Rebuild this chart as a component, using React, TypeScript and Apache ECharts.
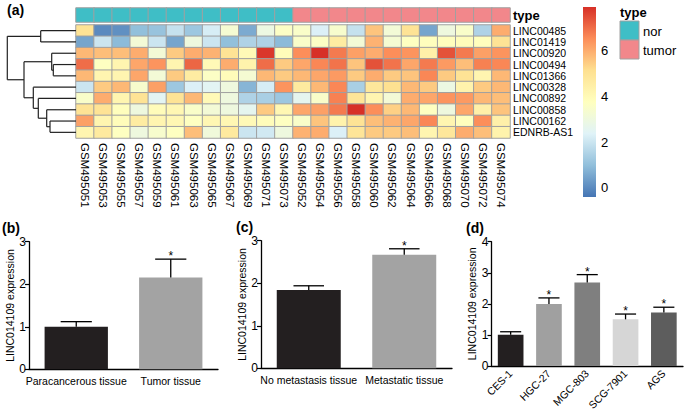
import React, { useEffect, useRef } from "react";
import * as echarts from "echarts";

const FONT = "Arial, 'Liberation Sans', Helvetica, sans-serif";

// ---------- heatmap data ----------
const genes = ["LINC00485", "LINC01419", "LINC00920", "LINC00494", "LINC01366", "LINC00328", "LINC00892", "LINC00858", "LINC00162", "EDNRB-AS1"];
const samples = [
  "GSM495051", "GSM495053", "GSM495055", "GSM495057", "GSM495059", "GSM495061", "GSM495063", "GSM495065", "GSM495067", "GSM495069", "GSM495071", "GSM495073",
  "GSM495052", "GSM495054", "GSM495056", "GSM495058", "GSM495060", "GSM495062", "GSM495064", "GSM495066", "GSM495068", "GSM495070", "GSM495072", "GSM495074",
];
const typeNames = ["nor", "tumor"];
const sampleTypes = [0, 0, 0, 0, 0, 0, 0, 0, 0, 0, 0, 0, 1, 1, 1, 1, 1, 1, 1, 1, 1, 1, 1, 1];
const expr: number[][] = [
  [5.0, 0.0, 0.1, 1.0, 1.1, 1.9, 1.2, 2.2, 3.3, 0.6, 2.9, 3.6, 3.5, 2.3, 3.4, 1.9, 5.6, 3.2, 5.0, 0.5, 3.0, 3.5, 1.5, 6.0],
  [0.5, 2.0, 0.9, 3.2, 2.0, 0.5, 3.0, 2.0, 1.0, 1.5, 1.5, 0.9, 3.5, 3.6, 4.6, 3.2, 5.9, 3.3, 3.7, 3.8, 3.8, 3.9, 3.8, 5.0],
  [5.8, 5.7, 5.7, 6.0, 3.2, 5.5, 6.0, 5.9, 5.0, 4.0, 7.8, 3.9, 6.5, 7.9, 6.8, 6.2, 6.0, 6.5, 6.4, 4.4, 7.4, 6.8, 6.2, 6.4],
  [7.0, 3.7, 4.2, 6.1, 6.4, 4.2, 7.1, 4.0, 6.0, 4.3, 7.0, 5.5, 6.1, 6.6, 6.9, 5.6, 7.4, 6.9, 6.1, 6.8, 6.3, 5.7, 6.7, 6.6],
  [5.8, 4.2, 4.2, 6.1, 3.2, 5.5, 4.6, 3.6, 3.9, 3.3, 5.8, 5.5, 5.8, 6.1, 6.3, 5.5, 6.0, 5.5, 5.6, 6.6, 5.5, 5.0, 4.2, 5.8],
  [2.0, 5.5, 5.8, 3.4, 6.2, 1.2, 2.3, 2.5, 3.0, 0.8, 2.2, 6.4, 4.7, 5.8, 6.6, 1.4, 4.8, 5.1, 5.8, 5.5, 2.9, 4.3, 5.5, 5.8],
  [3.5, 6.0, 4.2, 5.0, 2.5, 5.0, 5.8, 4.0, 3.0, 1.5, 1.4, 1.2, 2.6, 3.5, 6.7, 4.9, 4.2, 3.2, 6.0, 6.1, 6.4, 6.3, 5.8, 5.7],
  [5.0, 5.0, 3.8, 3.0, 3.9, 4.1, 3.5, 3.2, 3.0, 2.6, 5.5, 4.1, 6.1, 6.2, 6.8, 7.9, 6.5, 5.4, 5.8, 3.7, 3.0, 6.1, 4.4, 5.6],
  [6.2, 4.2, 3.9, 4.6, 4.2, 4.1, 3.7, 4.1, 4.1, 4.0, 3.9, 3.7, 3.5, 5.6, 4.3, 5.0, 5.7, 5.9, 6.1, 6.6, 4.2, 3.8, 6.5, 4.4],
  [4.2, 4.7, 3.7, 3.0, 3.4, 3.7, 5.7, 3.1, 4.7, 2.0, 2.1, 3.0, 5.9, 6.0, 2.3, 4.9, 5.5, 5.5, 5.7, 4.2, 4.8, 6.0, 5.7, 4.3],
];
const colorMin = -0.4;
const colorMax = 7.9;
const colorbarTicks = [0, 2, 4, 6];

// row dendrogram, hclust style: negative = leaf (1-based), positive = earlier merge (1-based), height
const dendroMerges: [number, number, number][] = [
  [-4, -5, 22.7],
  [-3, 1, 24.3],
  [-9, -10, 26.0],
  [-8, 3, 29.3],
  [-1, -2, 35.3],
  [-7, 4, 37.7],
  [-6, 6, 42.7],
  [2, 7, 52.0],
  [5, 8, 68.7],
];

// ---------- bar panels ----------
const bCats = ["Paracancerous tissue", "Tumor tissue"];
const bMeans = [1.0, 2.16];
const bErrs = [0.12, 0.43];
const bSig = [0, 1];

const cCats = ["No metastasis tissue", "Metastatic tissue"];
const cMeans = [1.84, 2.67];
const cErrs = [0.1, 0.14];
const cSig = [0, 1];

const dCats = ["CES-1", "HGC-27", "MGC-803", "SCG-7901", "AGS"];
const dMeans = [1.0, 1.99, 2.69, 1.5, 1.72];
const dErrs = [0.1, 0.2, 0.25, 0.17, 0.17];
const dSig = [0, 1, 1, 1, 1];

const yName = "LINC014109 expression";

// styles
const palette = ["#4575B4", "#91BFDB", "#E0F3F8", "#FFFFBF", "#FEE090", "#FC8D59", "#D73027"];
const typeColors = ["#3FBEC6", "#F2878B"];
const bcColors = ["#231F20", "#A3A3A3"];
const dColors = ["#231F20", "#A0A0A0", "#7F7F7F", "#D6D6D6", "#5D5D5D"];

export default function App() {
  const ref = useRef<HTMLDivElement>(null);

  useEffect(() => {
    if (!ref.current) return;
    const chart = echarts.init(ref.current, undefined, { renderer: "svg" });

    const heatData: number[][] = [];
    expr.forEach((row, r) => row.forEach((v, c) => heatData.push([c, r, v])));
    const annotData = sampleTypes.map((t, c) => [c, 0, t]);

    // dendrogram segments
    const nodes: { pos: number; h: number }[] = [];
    const segs: number[][] = [];
    const getNode = (id: number) => (id < 0 ? { pos: -id - 1, h: 0 } : nodes[id - 1]);
    dendroMerges.forEach(([a, b, h]) => {
      const A = getNode(a);
      const B = getNode(b);
      segs.push([A.h, A.pos, h, A.pos]);
      segs.push([B.h, B.pos, h, B.pos]);
      segs.push([h, A.pos, h, B.pos]);
      nodes.push({ pos: (A.pos + B.pos) / 2, h });
    });
    const rootH = Math.max(...dendroMerges.map((m) => m[2]));

    const errRender = (capFrac: number) => (params: any, api: any) => {
      const i = api.value(0);
      const m = api.value(1);
      const e = api.value(2);
      const s = api.value(3);
      const p0 = api.coord([i, m]);
      const p1 = api.coord([i, m + e]);
      const bw = api.size([1, 0])[0];
      const half = (bw * capFrac) / 2;
      const children: any[] = [
        { type: "line", shape: { x1: p0[0], y1: p0[1], x2: p1[0], y2: p1[1] }, style: { stroke: "#000", lineWidth: 1.3 } },
        { type: "line", shape: { x1: p1[0] - half, y1: p1[1], x2: p1[0] + half, y2: p1[1] }, style: { stroke: "#000", lineWidth: 1.3 } },
      ];
      if (s) {
        children.push({
          type: "text",
          x: p1[0],
          y: p1[1] + 3,
          style: { text: "*", fontSize: 12, fill: "#000", align: "center", verticalAlign: "bottom", fontFamily: FONT },
        });
      }
      return { type: "group", children };
    };

    const barGridIdx = [3, 4, 5];
    const panels = [
      { cats: bCats, means: bMeans, errs: bErrs, sig: bSig, colors: bcColors, max: 3, cap: 0.33, rotate: 0, gap: 14 },
      { cats: cCats, means: cMeans, errs: cErrs, sig: cSig, colors: bcColors, max: 3, cap: 0.32, rotate: 0, gap: 13 },
      { cats: dCats, means: dMeans, errs: dErrs, sig: dSig, colors: dColors, max: 4, cap: 0.55, rotate: 45, gap: 14 },
    ];

    const axisLineStyle = { color: "#000", width: 1.3 };

    const xAxes: any[] = [
      {
        type: "category", gridIndex: 0, data: samples, position: "bottom",
        axisLine: { show: false }, axisTick: { show: false }, splitLine: { show: false },
        axisLabel: { rotate: -90, fontSize: 11.5, color: "#000", margin: 5, interval: 0, fontFamily: FONT },
      },
      { type: "category", gridIndex: 1, data: samples, show: false },
      { type: "value", gridIndex: 2, min: 0, max: rootH, inverse: true, show: false },
    ];
    const yAxes: any[] = [
      {
        type: "category", gridIndex: 0, data: genes, inverse: true, position: "right",
        axisLine: { show: false }, axisTick: { show: false }, splitLine: { show: false },
        axisLabel: { fontSize: 10.5, color: "#000", margin: 3, interval: 0, fontFamily: FONT },
      },
      {
        type: "category", gridIndex: 1, data: ["type"], position: "right",
        axisLine: { show: false }, axisTick: { show: false },
        axisLabel: { fontSize: 13, fontWeight: "bold", color: "#000", margin: 3, fontFamily: FONT },
      },
      { type: "value", gridIndex: 2, min: -0.5, max: genes.length - 0.5, inverse: true, show: false },
    ];

    const series: any[] = [
      {
        type: "heatmap", xAxisIndex: 0, yAxisIndex: 0, data: heatData,
        itemStyle: { borderColor: "#A0A0A0", borderWidth: 1 },
        emphasis: { disabled: true },
      },
      {
        type: "heatmap", xAxisIndex: 1, yAxisIndex: 1, data: annotData,
        itemStyle: { borderColor: "#A0A0A0", borderWidth: 1 },
        emphasis: { disabled: true },
      },
      {
        type: "custom", xAxisIndex: 2, yAxisIndex: 2, data: segs,
        encode: { x: [0, 2], y: [1, 3] },
        renderItem: (params: any, api: any) => {
          const a = api.coord([api.value(0), api.value(1)]);
          const b = api.coord([api.value(2), api.value(3)]);
          return { type: "line", shape: { x1: a[0], y1: a[1], x2: b[0], y2: b[1] }, style: { stroke: "#222", lineWidth: 1.2 } };
        },
        silent: true,
      },
    ];

    panels.forEach((p, k) => {
      const gi = barGridIdx[k];
      xAxes.push({
        type: "category", gridIndex: gi, data: p.cats,
        axisLine: { lineStyle: axisLineStyle },
        axisTick: { alignWithLabel: true, length: 4, lineStyle: { color: "#000", width: 1.2 } },
        axisLabel: { color: "#000", fontSize: 10.5, margin: 6, interval: 0, rotate: p.rotate, fontFamily: FONT },
        splitLine: { show: false },
      });
      yAxes.push({
        type: "value", gridIndex: gi, min: 0, max: p.max, interval: 1,
        axisLine: { show: true, lineStyle: axisLineStyle },
        axisTick: { show: true, length: 4, lineStyle: { color: "#000", width: 1.2 } },
        axisLabel: { color: "#000", fontSize: 12, margin: 3, fontFamily: FONT },
        splitLine: { show: false },
        name: yName, nameLocation: "middle", nameGap: p.gap,
        nameTextStyle: { color: "#000", fontSize: 10.5, fontFamily: FONT },
      });
      series.push({
        type: "bar", xAxisIndex: gi, yAxisIndex: gi, barWidth: "67%",
        data: p.means.map((v, i) => ({ value: v, itemStyle: { color: p.colors[i] } })),
        silent: true,
      });
      series.push({
        type: "custom", xAxisIndex: gi, yAxisIndex: gi,
        data: p.means.map((v, i) => [i, v, p.errs[i], p.sig[i]]),
        encode: { x: 0, y: 1 },
        renderItem: errRender(p.cap),
        itemStyle: { color: "#000" },
        silent: true, z: 3,
      });
    });

    // colorbar
    const cbX = 583, cbY = 7, cbW = 13, cbH = 190;
    const cbStops = palette.map((c, i) => ({ offset: i / (palette.length - 1), color: c }));
    const graphics: any[] = [
      {
        type: "rect", shape: { x: cbX, y: cbY, width: cbW, height: cbH },
        style: { fill: new echarts.graphic.LinearGradient(0, 1, 0, 0, cbStops) },
      },
      ...colorbarTicks.map((t) => ({
        type: "text", x: cbX + 18, y: cbY + ((colorMax - t) / (colorMax - colorMin)) * cbH,
        style: { text: String(t), fontSize: 13, fill: "#000", verticalAlign: "middle", fontFamily: FONT },
      })),
      { type: "text", x: 620, y: 6, style: { text: "type", fontSize: 13, fontWeight: "bold", fill: "#000", fontFamily: FONT } },
      ...typeNames.map((n, i) => ({
        type: "group",
        children: [
          { type: "rect", shape: { x: 620, y: 21 + i * 19, width: 19, height: 19 }, style: { fill: typeColors[i], stroke: "#A0A0A0", lineWidth: 1 } },
          { type: "text", x: 643, y: 31 + i * 19, style: { text: n, fontSize: 13, fill: "#000", verticalAlign: "middle", fontFamily: FONT } },
        ],
      })),
      { type: "text", x: 7, y: 3, style: { text: "(a)", fontSize: 14, fontWeight: "bold", fill: "#000", fontFamily: FONT } },
      { type: "text", x: 2, y: 221, style: { text: "(b)", fontSize: 14, fontWeight: "bold", fill: "#000", fontFamily: FONT } },
      { type: "text", x: 236, y: 220, style: { text: "(c)", fontSize: 14, fontWeight: "bold", fill: "#000", fontFamily: FONT } },
      { type: "text", x: 466, y: 221, style: { text: "(d)", fontSize: 14, fontWeight: "bold", fill: "#000", fontFamily: FONT } },
    ];

    chart.setOption({
      animation: false,
      backgroundColor: "#fff",
      textStyle: { fontFamily: FONT },
      grid: [
        { left: 76, top: 25, width: 434, height: 113 },
        { left: 76, top: 8, width: 434, height: 14 },
        { left: 76 - rootH, top: 25, width: rootH, height: 113 },
        { left: 29, top: 241.7, width: 189, height: 127.6 },
        { left: 261, top: 240.7, width: 191, height: 127.6 },
        { left: 491.5, top: 241.7, width: 191.5, height: 127.3 },
      ],
      xAxis: xAxes,
      yAxis: yAxes,
      visualMap: [
        { type: "continuous", min: colorMin, max: colorMax, seriesIndex: 0, show: false, inRange: { color: palette } },
        {
          type: "piecewise", seriesIndex: 1, show: false,
          pieces: typeNames.map((n, i) => ({ value: i, color: typeColors[i], label: n })),
        },
      ],
      series,
      graphic: graphics,
    });

    return () => chart.dispose();
  }, []);

  return (
    <div
      ref={ref}
      style={{ position: "absolute", left: 0, top: 0, width: 685, height: 413, background: "#fff" }}
    />
  );
}
